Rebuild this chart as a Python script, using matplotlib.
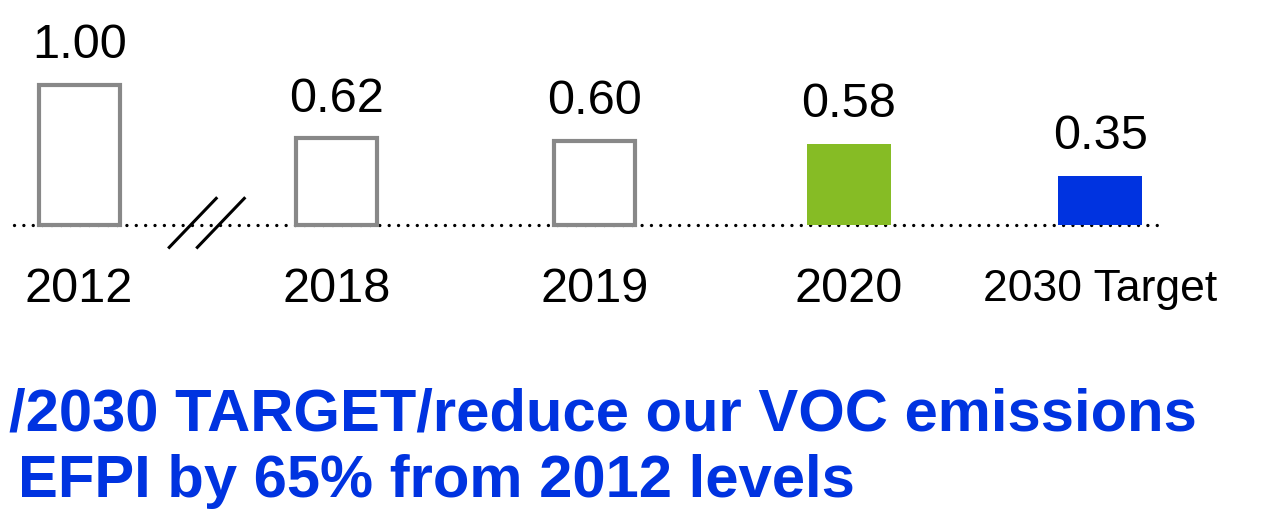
import matplotlib
matplotlib.use("Agg")
import matplotlib.pyplot as plt
import numpy as np

# VOC emissions EFPI, indexed to 2012
years = ["2012", "2018", "2019", "2020", "2030 Target"]
values = [1.00, 0.62, 0.60, 0.58, 0.35]
value_labels = ["1.00", "0.62", "0.60", "0.58", "0.35"]
filled = [False, False, False, True, True]
fill_colors = ["none", "none", "none", "#86bc25", "#0033e0"]

headline = ["/2030 TARGET/reduce our VOC emissions",
            "EFPI by 65% from 2012 levels"]

plt.rcParams['font.family'] = ['Liberation Sans', 'DejaVu Sans']

fig = plt.figure(figsize=(12.61, 5.16), dpi=100)
ax = fig.add_axes([0, 0, 1, 1])
ax.set_xlim(-0.31, 4.63)
ax.set_ylim(-2.079, 1.607)
ax.axis("off")

x = np.array([0, 1.008, 2.02, 3.015, 4.0])

# dotted baseline
ax.plot([-0.255, 4.25], [0, 0], color="black", lw=2.4,
        dashes=(0.01, 2.8), dash_capstyle="round", zorder=1)

for i in range(len(years)):
    if filled[i]:
        ax.bar(x[i], values[i], width=0.33, color=fill_colors[i], zorder=2)
    else:
        ax.bar(x[i], values[i], width=0.318, facecolor="white",
               edgecolor="#888888", lw=3, zorder=2)
    ax.annotate(value_labels[i], (x[i], values[i]), xytext=(0, 12),
                textcoords="offset points", ha="center", va="bottom",
                fontsize=35, color="black")
    fs = 35 if i < 4 else 32
    ax.text(x[i], -0.46, years[i], ha="center", va="center",
            fontsize=fs, color="black")

# axis break marks between 2012 and 2018
for dx in [-0.055, 0.055]:
    ax.plot([0.5 + dx - 0.092, 0.5 + dx + 0.092], [-0.16, 0.19],
            color="black", lw=2.2, zorder=3)

fig.text(0.007, 1 - 430 / 516, headline[0], ha="left", va="baseline",
         fontsize=43, fontweight="bold", color="#0033e0")
fig.text(0.014, 1 - 497 / 516, headline[1], ha="left", va="baseline",
         fontsize=43, fontweight="bold", color="#0033e0")

fig.savefig("out.png", dpi=100)
